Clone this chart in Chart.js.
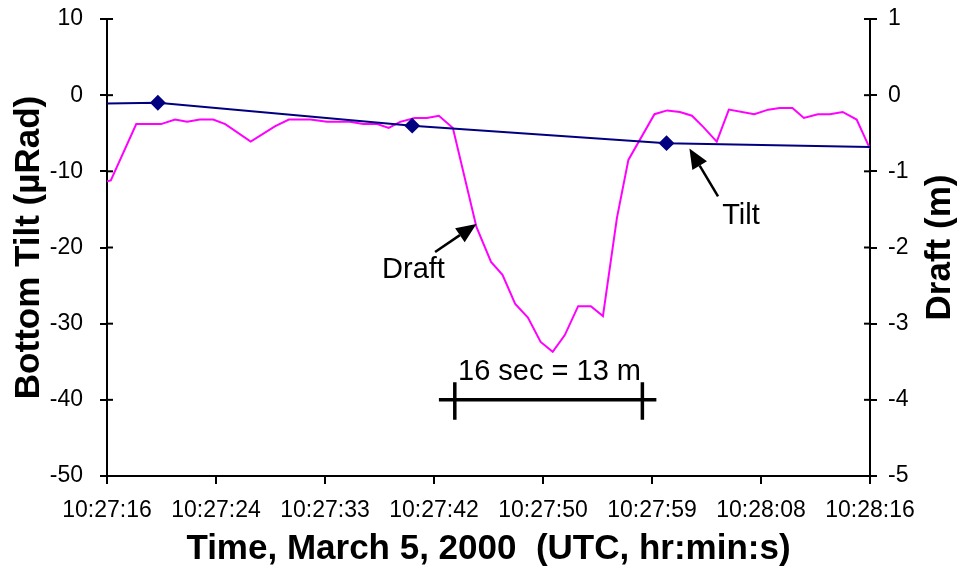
<!DOCTYPE html>
<html>
<head>
<meta charset="utf-8">
<script src="https://cdn.jsdelivr.net/npm/chart.js@4/dist/chart.umd.min.js"></script>
<style>
  html, body { margin: 0; padding: 0; background: #fff; }
  #wrap { width: 960px; height: 576px; }
</style>
</head>
<body>
<div id="wrap"><canvas id="tiltChart" width="960" height="576"></canvas></div>
<script>
// time axis: seconds after 10:27:16 (axis runs 0..60 s, 7 equal steps)
const timeTicks = ['10:27:16', '10:27:24', '10:27:33', '10:27:42', '10:27:50', '10:27:59', '10:28:08', '10:28:16'];

// draft (m), right axis
const draftSec = [0, 0.3, 2.3, 4.25, 5.35, 6.3, 7.3, 8.35, 9.3, 11.3, 13.2, 14.3, 16.0, 17.3, 19.1, 20.15,
  21.25, 22.15, 23.05, 24.2, 25.15, 26.1, 27.2, 29.05, 30.2, 31.1, 32.1, 33.1, 34.1, 35.05, 36.0, 37.05,
  38.05, 39.0, 40.1, 41.0, 43.05, 44.05, 45.05, 46.0, 46.9, 47.95, 48.9, 50.9, 52.0, 52.9, 53.9, 54.8,
  55.9, 56.85, 57.85, 58.95, 59.85, 60];
const draftM = [-1.13, -1.12, -0.38, -0.38, -0.32, -0.35, -0.32, -0.32, -0.38, -0.61, -0.41, -0.32, -0.32, -0.35, -0.35, -0.38,
  -0.38, -0.43, -0.35, -0.30, -0.30, -0.27, -0.43, -1.73, -2.19, -2.36, -2.74, -2.92, -3.24, -3.37, -3.15, -2.77,
  -2.77, -2.90, -1.61, -0.85, -0.25, -0.20, -0.22, -0.27, -0.42, -0.61, -0.19, -0.25, -0.19, -0.17, -0.17, -0.30,
  -0.25, -0.25, -0.22, -0.32, -0.65, -0.70];

// bottom tilt (µRad), left axis; first and last are where the line meets the axes
const tiltSec = [0, 4, 24, 44, 60];
const tiltUrad = [-1.1, -1.0, -4.0, -6.3, -6.8];

// scale bar (in seconds / µRad)
const barSec = [26.1, 43.2];
const barTickSec = [27.35, 42.1];
const barLevel = -40;
const barTickSpan = [-37.7, -42.6];

// annotations: text anchor and arrows (tail -> tip), in seconds / µRad
const noteText = ['Draft', 'Tilt', '16 sec = 13 m'];
const noteSec = [24.1, 49.85, 34.8];
const noteTilt = [-22.9, -15.9, -36.4];
const arrowFromSec = [25.8, 48.05];
const arrowFromTilt = [-20.6, -13.3];
const arrowToSec = [29.05, 45.8];
const arrowToTilt = [-16.9, -7.0];

const pts = (xs, ys) => xs.map((v, i) => ({ x: v, y: ys[i] }));

function line(ctx, x1, y1, x2, y2) {
  ctx.beginPath(); ctx.moveTo(x1, y1); ctx.lineTo(x2, y2); ctx.stroke();
}

const overlay = {
  id: 'overlay',
  afterDraw(chart) {
    const { ctx, chartArea } = chart;
    const { x, y, y1 } = chart.scales;
    ctx.save();
    ctx.strokeStyle = '#000';
    ctx.fillStyle = '#000';
    ctx.lineWidth = 2;
    // inner half of the crossing tick marks on both value axes
    y.ticks.forEach(t => { const p = y.getPixelForValue(t.value); line(ctx, chartArea.left, p, chartArea.left + 6, p); });
    y1.ticks.forEach(t => { const p = y1.getPixelForValue(t.value); line(ctx, chartArea.right - 6, p, chartArea.right, p); });

    // arrows
    arrowFromSec.forEach((s, i) => {
      const x0 = x.getPixelForValue(s), y0 = y.getPixelForValue(arrowFromTilt[i]);
      const x2 = x.getPixelForValue(arrowToSec[i]), y2 = y.getPixelForValue(arrowToTilt[i]);
      const a = Math.atan2(y2 - y0, x2 - x0);
      const hl = 20, hw = 8.5;
      const bx = x2 - hl * Math.cos(a), by = y2 - hl * Math.sin(a);
      ctx.lineWidth = 2.5;
      line(ctx, x0, y0, bx, by);
      ctx.beginPath();
      ctx.moveTo(x2, y2);
      ctx.lineTo(bx + hw * Math.sin(a), by - hw * Math.cos(a));
      ctx.lineTo(bx - hw * Math.sin(a), by + hw * Math.cos(a));
      ctx.closePath();
      ctx.fill();
    });

    // annotation text
    ctx.font = '29px "Liberation Sans", Arial, sans-serif';
    ctx.textAlign = 'center';
    ctx.textBaseline = 'middle';
    noteText.forEach((txt, i) => {
      ctx.fillText(txt, x.getPixelForValue(noteSec[i]), y.getPixelForValue(noteTilt[i]));
    });

    // right axis title, reading bottom to top
    ctx.font = 'bold 35px "Liberation Sans", Arial, sans-serif';
    ctx.translate(940, (chartArea.top + chartArea.bottom) / 2);
    ctx.rotate(-Math.PI / 2);
    ctx.fillText('Draft (m)', 0, 0);
    ctx.restore();
  }
};

const tickFont = { family: '"Liberation Sans", Arial, sans-serif', size: 23 };
const titleFont = { family: '"Liberation Sans", Arial, sans-serif', size: 35, weight: 'bold' };
const axisGrid = { drawOnChartArea: false, color: '#000', lineWidth: 2, tickLength: 7 };
const axisBorder = { color: '#000', width: 2 };

const barLine = (data) => ({
  data, yAxisID: 'y', borderColor: '#000', borderWidth: 3.5, pointRadius: 0, fill: false
});

// fixed box sizes so the plot area sits where the original one does
const fitValueAxis = w => scale => {
  scale.width = w;
  scale.paddingTop = 0;
  scale.paddingBottom = 0;
};

new Chart(document.getElementById('tiltChart').getContext('2d'), {
  type: 'line',
  data: {
    datasets: [
      {
        label: 'Tilt',
        data: pts(tiltSec, tiltUrad),
        yAxisID: 'y',
        borderColor: '#000080',
        backgroundColor: '#000080',
        borderWidth: 2,
        pointStyle: 'rectRot',
        pointRadius: ctx => (ctx.dataIndex === 0 || ctx.dataIndex === tiltSec.length - 1 ? 0 : 6.5),
        tension: 0
      },
      {
        label: 'Draft',
        data: pts(draftSec, draftM),
        yAxisID: 'y1',
        borderColor: '#ff00ff',
        borderWidth: 2,
        pointRadius: 0,
        tension: 0
      },
      barLine(pts(barSec, [barLevel, barLevel])),
      barLine(pts([barTickSec[0], barTickSec[0]], barTickSpan)),
      barLine(pts([barTickSec[1], barTickSec[1]], barTickSpan))
    ]
  },
  options: {
    responsive: false,
    animation: false,
    events: [],
    layout: { padding: { top: 19 } },
    plugins: { legend: { display: false }, tooltip: { enabled: false } },
    scales: {
      x: {
        type: 'linear',
        min: 0,
        max: 60,
        afterBuildTicks: scale => { scale.ticks = timeTicks.map((_, i) => ({ value: i * 60 / (timeTicks.length - 1) })); },
        afterFit: scale => { scale.height = 100; },
        ticks: { callback: (v, i) => timeTicks[i], font: tickFont, color: '#000', maxRotation: 0, autoSkip: false, padding: 13 },
        grid: { ...axisGrid, tickLength: 8 },
        border: axisBorder,
        title: { display: true, text: 'Time, March 5, 2000  (UTC, hr:min:s)', font: titleFont, color: '#000', padding: { top: 0, bottom: 6 } }
      },
      y: {
        position: 'left',
        min: -50,
        max: 10,
        afterFit: fitValueAxis(107),
        ticks: { stepSize: 10, font: tickFont, color: '#000', padding: 17 },
        grid: axisGrid,
        border: axisBorder,
        title: { display: true, text: 'Bottom Tilt (µRad)', font: titleFont, color: '#000', padding: { top: 8, bottom: 0 } }
      },
      y1: {
        position: 'right',
        min: -5,
        max: 1,
        afterFit: fitValueAxis(90),
        ticks: { stepSize: 1, font: tickFont, color: '#000', padding: 11 },
        grid: axisGrid,
        border: axisBorder
      }
    }
  },
  plugins: [overlay]
});
</script>
</body>
</html>
